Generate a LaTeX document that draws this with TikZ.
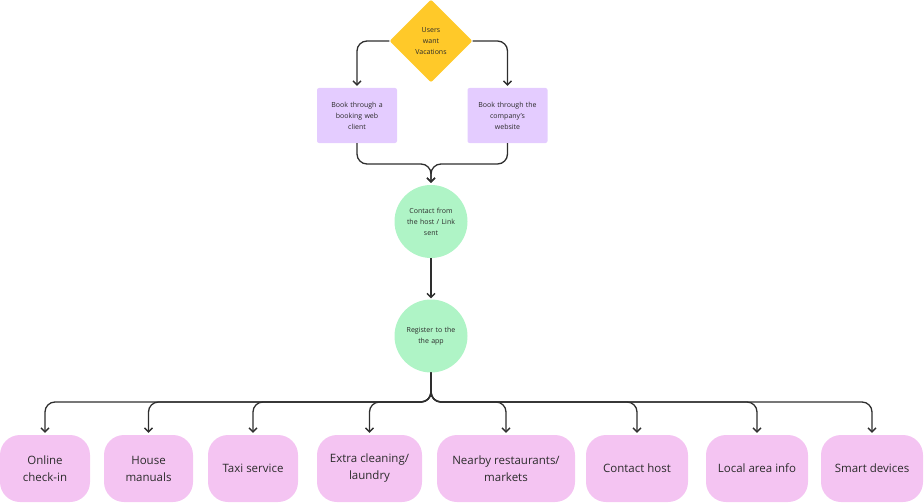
\documentclass[tikz,border=0pt]{standalone}
\usepackage{fontspec}
\setmainfont{Open Sans}
\usetikzlibrary{shapes.geometric,arrows.meta,positioning}

\definecolor{choicey}{HTML}{FFC929}
\definecolor{channelp}{HTML}{E4CCFF}
\definecolor{stageg}{HTML}{AFF4C6}
\definecolor{featurep}{HTML}{F4C4F2}
\definecolor{linek}{HTML}{2E2E2E}
\definecolor{textk}{HTML}{2B2B2B}

\begin{document}
\begin{tikzpicture}[x=1pt, y=-1pt, >={Straight Barb[length=4pt,width=8pt]},
    choice/.style={diamond, fill=choicey, rounded corners=2pt, inner sep=0pt, minimum width=83pt, minimum height=83pt, align=center, font=\fontsize{7}{11}\selectfont, text=textk},
    channel/.style={rectangle, fill=channelp, rounded corners=2pt, minimum width=80pt, minimum height=55pt, text width=66pt, align=center, font=\fontsize{7}{11}\selectfont, text=textk},
    stage/.style={circle, fill=stageg, minimum size=73pt, inner sep=0pt, text width=56pt, align=center, font=\fontsize{7}{11}\selectfont, text=textk},
    feature/.style={rectangle, fill=featurep, rounded corners=20pt, minimum height=67pt, align=center, font=\fontsize{11.5}{17}\selectfont, text=textk},
    link/.style={->, draw=linek, line width=1.3pt, rounded corners=10pt, shorten >=2pt}]
    \useasboundingbox (0,0) rectangle (924,503);

    \node[choice]                        (want)     at (431,41)    {Users\\want\\Vacations};
    \node[channel]                       (booking)  at (357,115.5) {Book through a\\booking web\\client};
    \node[channel]                       (website)  at (507.5,115.5) {Book through the\\company's\\website};
    \node[stage]                         (contact)  at (431,221.5) {Contact from\\the host / Link\\sent};
    \node[stage]                         (register) at (431,336)   {Register to the\\the app};

    \node[feature, minimum width=90pt]   (checkin)  at (45,468.5)  {Online\\check-in};
    \node[feature, minimum width=89pt]   (manuals)  at (148.5,468.5) {House\\manuals};
    \node[feature, minimum width=90pt]   (taxi)     at (253,468.5) {Taxi service};
    \node[feature, minimum width=105pt]  (cleaning) at (369.5,468.5) {Extra cleaning/\\laundry};
    \node[feature, minimum width=138pt]  (nearby)   at (506,468.5) {Nearby restaurants/\\markets};
    \node[feature, minimum width=102pt]  (host)     at (637,468.5) {Contact host};
    \node[feature, minimum width=102pt]  (local)    at (757,468.5) {Local area info};
    \node[feature, minimum width=102pt]  (smart)    at (872,468.5) {Smart devices};

    \coordinate (merge) at (431,164);
    \coordinate (bus)   at (431,402);

    % booking channels
    \draw[link] (want.west) -| (booking.north);
    \draw[link] (want.east) -| (website.north);
    \draw[link] (booking.south) |- (merge) -- (contact.north);
    \draw[link] (website.south) |- (merge) -- (contact.north);
    \draw[link, shorten >=1pt] (contact.south) -- (register.north);

    % app features
    \foreach \f in {checkin,manuals,taxi,cleaning,nearby,host,local,smart}
        \draw[link] (register.south) |- (bus -| \f.north) -- (\f.north);
\end{tikzpicture}
\end{document}
